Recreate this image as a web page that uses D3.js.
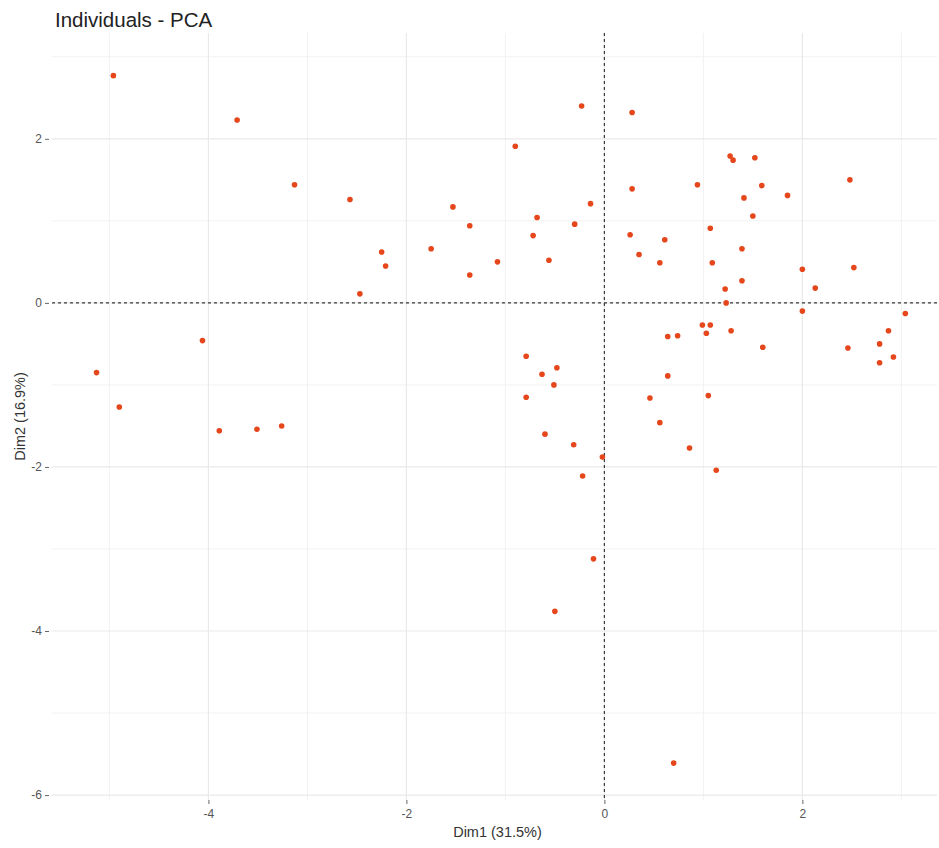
<!DOCTYPE html>
<html>
<head>
<meta charset="utf-8">
<script src="https://cdn.jsdelivr.net/npm/d3@7"></script>
<style>
  html, body { margin: 0; padding: 0; background: #fff; }
  svg { display: block; font-family: "Liberation Sans", Arial, sans-serif; }
</style>
</head>
<body>
<svg id="chart" width="939" height="848"></svg>
<script>
// ---- data ----
const title = "Individuals - PCA";
const xLabel = "Dim1 (31.5%)";
const yLabel = "Dim2 (16.9%)";
const xTicks = [-4, -2, 0, 2];
const yTicks = [2, 0, -2, -4, -6];
const xMinor = [-5, -3, -1, 1, 3];
const yMinor = [3, 1, -1, -3, -5];
const dim1 = [
  -4.96, -3.71, -3.13, -2.57, -1.53, -1.36, -1.75, -2.25, -2.21, -1.36, -1.08, -2.47,
  -4.06, -5.13, -4.90, -3.89, -3.51, -3.26,
  -0.23, 0.28, -0.90, 1.27, 1.30, 1.52, 2.48, 0.94, 1.59, 1.85, 0.28, 1.41, -0.14, 1.50,
  -0.68, -0.30, 1.07, -0.72, 0.26, 0.61, 1.39, -0.56, 0.35, 0.56, 1.09, 2.00, 2.52, 1.22,
  1.39, 2.13, 1.23,
  2.00, 3.04, 0.99, 1.07, 1.03, 1.28, 2.87, 0.64, 0.74, 1.60, 2.46, 2.78, 2.92, 2.78,
  -0.79, -0.63, -0.48, -0.51, -0.79, 0.64, 0.46, 1.05, 0.56, -0.60, -0.31, 0.86, -0.02,
  1.13, -0.22, -0.11, -0.50, 0.70
];
const dim2 = [
  2.77, 2.23, 1.44, 1.26, 1.17, 0.94, 0.66, 0.62, 0.45, 0.34, 0.50, 0.11,
  -0.46, -0.85, -1.27, -1.56, -1.54, -1.50,
  2.40, 2.32, 1.91, 1.79, 1.74, 1.77, 1.50, 1.44, 1.43, 1.31, 1.39, 1.28, 1.21, 1.06,
  1.04, 0.96, 0.91, 0.82, 0.83, 0.77, 0.66, 0.52, 0.59, 0.49, 0.49, 0.41, 0.43, 0.17,
  0.27, 0.18, 0.00,
  -0.10, -0.13, -0.27, -0.27, -0.37, -0.34, -0.34, -0.41, -0.40, -0.54, -0.55, -0.50, -0.66, -0.73,
  -0.65, -0.87, -0.79, -1.00, -1.15, -0.89, -1.16, -1.13, -1.46, -1.60, -1.73, -1.77, -1.88,
  -2.04, -2.11, -3.12, -3.76, -5.61
];
const points = dim1.map((d, i) => ({ x: d, y: dim2[i] }));

// ---- layout ----
const panel = { left: 52, right: 937, top: 33, bottom: 800 };
const svg = d3.select("#chart");

const x = d3.scaleLinear().domain([-5.58, 3.36]).range([panel.left, panel.right]);
const y = d3.scaleLinear().domain([-6.06, 3.29]).range([panel.bottom, panel.top]);

const grid = svg.append("g");
grid.selectAll("line.xmin").data(xMinor).join("line")
  .attr("x1", d => x(d)).attr("x2", d => x(d))
  .attr("y1", panel.top).attr("y2", panel.bottom)
  .attr("stroke", "#f2f2f2").attr("stroke-width", 1);
grid.selectAll("line.ymin").data(yMinor).join("line")
  .attr("y1", d => y(d)).attr("y2", d => y(d))
  .attr("x1", panel.left).attr("x2", panel.right)
  .attr("stroke", "#f2f2f2").attr("stroke-width", 1);
grid.selectAll("line.xmaj").data(xTicks).join("line")
  .attr("x1", d => x(d)).attr("x2", d => x(d))
  .attr("y1", panel.top).attr("y2", panel.bottom)
  .attr("stroke", "#e9e9e9").attr("stroke-width", 1.2);
grid.selectAll("line.ymaj").data(yTicks).join("line")
  .attr("y1", d => y(d)).attr("y2", d => y(d))
  .attr("x1", panel.left).attr("x2", panel.right)
  .attr("stroke", "#e9e9e9").attr("stroke-width", 1.2);

const xAxis = svg.append("g")
  .attr("transform", `translate(0,${panel.bottom})`)
  .call(d3.axisBottom(x).tickValues(xTicks).tickSize(4).tickPadding(5).tickFormat(d3.format("d")));
const yAxis = svg.append("g")
  .attr("transform", `translate(${panel.left - 3},0)`)
  .call(d3.axisLeft(y).tickValues(yTicks).tickSize(4).tickPadding(3).tickFormat(d3.format("d")));
[xAxis, yAxis].forEach(a => {
  a.select(".domain").remove();
  a.selectAll(".tick line").attr("stroke", "#666").attr("stroke-width", 1);
  a.selectAll(".tick text").attr("fill", "#555").attr("font-size", 12)
    .attr("font-family", "'Liberation Sans', Arial, sans-serif")
    .text(d => d < 0 ? "-" + Math.abs(d) : String(d));
});

svg.append("line")
  .attr("x1", panel.left).attr("x2", panel.right)
  .attr("y1", y(0)).attr("y2", y(0))
  .attr("stroke", "#3a3a3a").attr("stroke-width", 1.2).attr("stroke-dasharray", "3,3");
svg.append("line")
  .attr("x1", x(0)).attr("x2", x(0))
  .attr("y1", panel.top).attr("y2", panel.bottom)
  .attr("stroke", "#3a3a3a").attr("stroke-width", 1.2).attr("stroke-dasharray", "3,3");

svg.append("g").selectAll("circle").data(points).join("circle")
  .attr("cx", d => x(d.x)).attr("cy", d => y(d.y))
  .attr("r", 2.8)
  .attr("fill", "#E5461B");

svg.append("text")
  .attr("x", 55).attr("y", 27)
  .attr("font-size", 20.5).attr("fill", "#222")
  .text(title);

svg.append("text")
  .attr("x", (panel.left + panel.right) / 2 + 3).attr("y", 837)
  .attr("text-anchor", "middle").attr("font-size", 14.5).attr("fill", "#333")
  .text(xLabel);
svg.append("text")
  .attr("transform", `translate(25,${(panel.top + panel.bottom) / 2}) rotate(-90)`)
  .attr("text-anchor", "middle").attr("font-size", 14.5).attr("fill", "#333")
  .text(yLabel);
</script>
</body>
</html>
